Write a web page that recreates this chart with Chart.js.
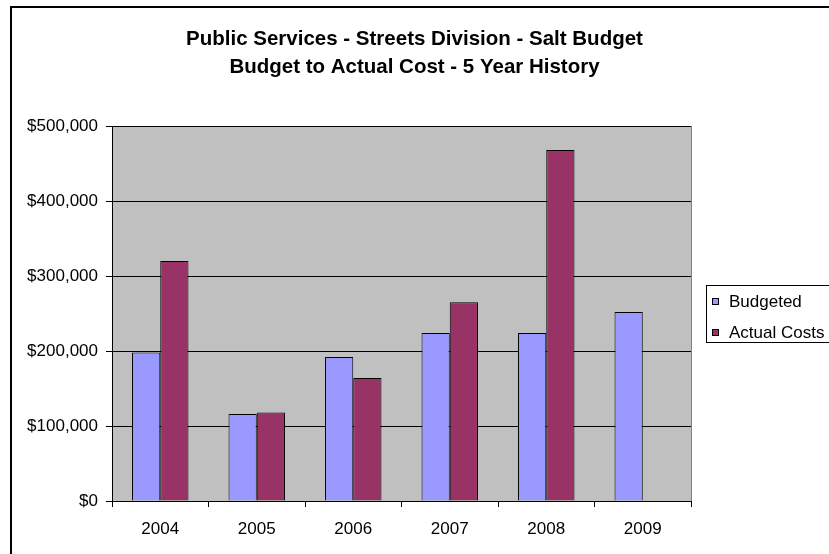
<!DOCTYPE html>
<html>
<head>
<meta charset="utf-8">
<title>Salt Budget</title>
<script src="https://cdn.jsdelivr.net/npm/chart.js@4"></script>
<style>
  html, body { margin: 0; padding: 0; background: #fff; overflow: hidden; }
  #wrap { position: relative; width: 829px; height: 554px; }
</style>
</head>
<body>
<div id="wrap"><canvas id="graficoSal" width="829" height="554"></canvas></div>
<script>
// ===== Dados =====
const anos = ["2004", "2005", "2006", "2007", "2008", "2009"];
const orcado = [198000, 116000, 192000, 224000, 224000, 252000];
const custoReal = [320000, 118000, 164000, 265000, 468000, null];
const nomesSeries = ["Budgeted", "Actual Costs"];
const titulo = [
  "Public Services - Streets Division - Salt Budget",
  "Budget to Actual Cost - 5 Year History"
];

const FONTE = "'Liberation Sans', Arial, sans-serif";
const corOrcado = "#9999FF";
const corReal = "#993366";

function dolar(v) {
  return "$" + Number(v).toLocaleString("en-US");
}

// fundo cinza da área de plotagem + moldura externa
const fundoPlot = {
  id: "fundoPlot",
  beforeDraw(chart) {
    const { ctx, chartArea: a } = chart;
    ctx.save();
    ctx.fillStyle = "#C0C0C0";
    ctx.fillRect(a.left, a.top, a.right - a.left, a.bottom - a.top);
    ctx.strokeStyle = "#808080";
    ctx.lineWidth = 1;
    ctx.beginPath();
    ctx.moveTo(Math.round(a.right) + 0.5, a.top);
    ctx.lineTo(Math.round(a.right) + 0.5, a.bottom);
    ctx.stroke();
    ctx.fillStyle = "#000";
    ctx.fillRect(10, 6, 2, chart.height);
    ctx.fillRect(10, 6, chart.width, 2);
    ctx.restore();
  }
};

// legenda com caixa, à direita
const legendaCaixa = {
  id: "legendaCaixa",
  afterDraw(chart) {
    const { ctx } = chart;
    const x = 706, y = 285, h = 57;
    ctx.save();
    ctx.fillStyle = "#fff";
    ctx.fillRect(x, y, 200, h);
    ctx.strokeStyle = "#000";
    ctx.lineWidth = 1;
    ctx.strokeRect(x + 0.5, y + 0.5, 200, h);
    ctx.font = "17px " + FONTE;
    ctx.textBaseline = "middle";
    chart.data.datasets.forEach((ds, i) => {
      const cy = 301 + i * 31;
      ctx.fillStyle = ds.backgroundColor;
      ctx.fillRect(712, cy - 3, 7, 7);
      ctx.strokeStyle = "#000";
      ctx.strokeRect(712.5, cy - 2.5, 6, 6);
      ctx.fillStyle = "#000";
      ctx.fillText(ds.label, 729, cy + 1);
    });
    ctx.restore();
  }
};

new Chart(document.getElementById("graficoSal"), {
  type: "bar",
  data: {
    labels: anos,
    datasets: [
      { label: nomesSeries[0], data: orcado, backgroundColor: corOrcado, borderColor: "#000", borderWidth: 1 },
      { label: nomesSeries[1], data: custoReal, backgroundColor: corReal, borderColor: "#000", borderWidth: 1 }
    ]
  },
  options: {
    responsive: false,
    animation: false,
    devicePixelRatio: 1,
    datasets: { bar: { barPercentage: 1, categoryPercentage: 0.585 } },
    layout: { padding: 0 },
    plugins: {
      legend: { display: false },
      tooltip: { enabled: false },
      title: {
        display: true,
        text: titulo,
        color: "#000",
        font: { family: FONTE, size: 20.5, weight: "bold", lineHeight: 1.366 },
        padding: { top: 25, bottom: 45 }
      }
    },
    scales: {
      x: {
        afterFit: (s) => { s.height = 53; },
        grid: { display: true, drawOnChartArea: false, color: "#000", tickLength: 6, offset: true },
        border: { color: "#000", width: 1 },
        ticks: { color: "#000", font: { family: FONTE, size: 17 }, padding: 12 }
      },
      y: {
        min: 0,
        max: 500000,
        afterFit: (s) => { s.width = 112; },
        grid: { color: "#000", tickLength: 6 },
        border: { color: "#000", width: 1 },
        ticks: { stepSize: 100000, color: "#000", font: { family: FONTE, size: 17 }, padding: 8, callback: dolar }
      },
      // eixo vazio à direita: reserva o espaço da legenda
      espacoLegenda: {
        type: "linear",
        position: "right",
        afterFit: (s) => { s.width = 138; },
        grid: { display: false },
        border: { display: false },
        ticks: { display: false }
      }
    }
  },
  plugins: [fundoPlot, legendaCaixa]
});
</script>
</body>
</html>
